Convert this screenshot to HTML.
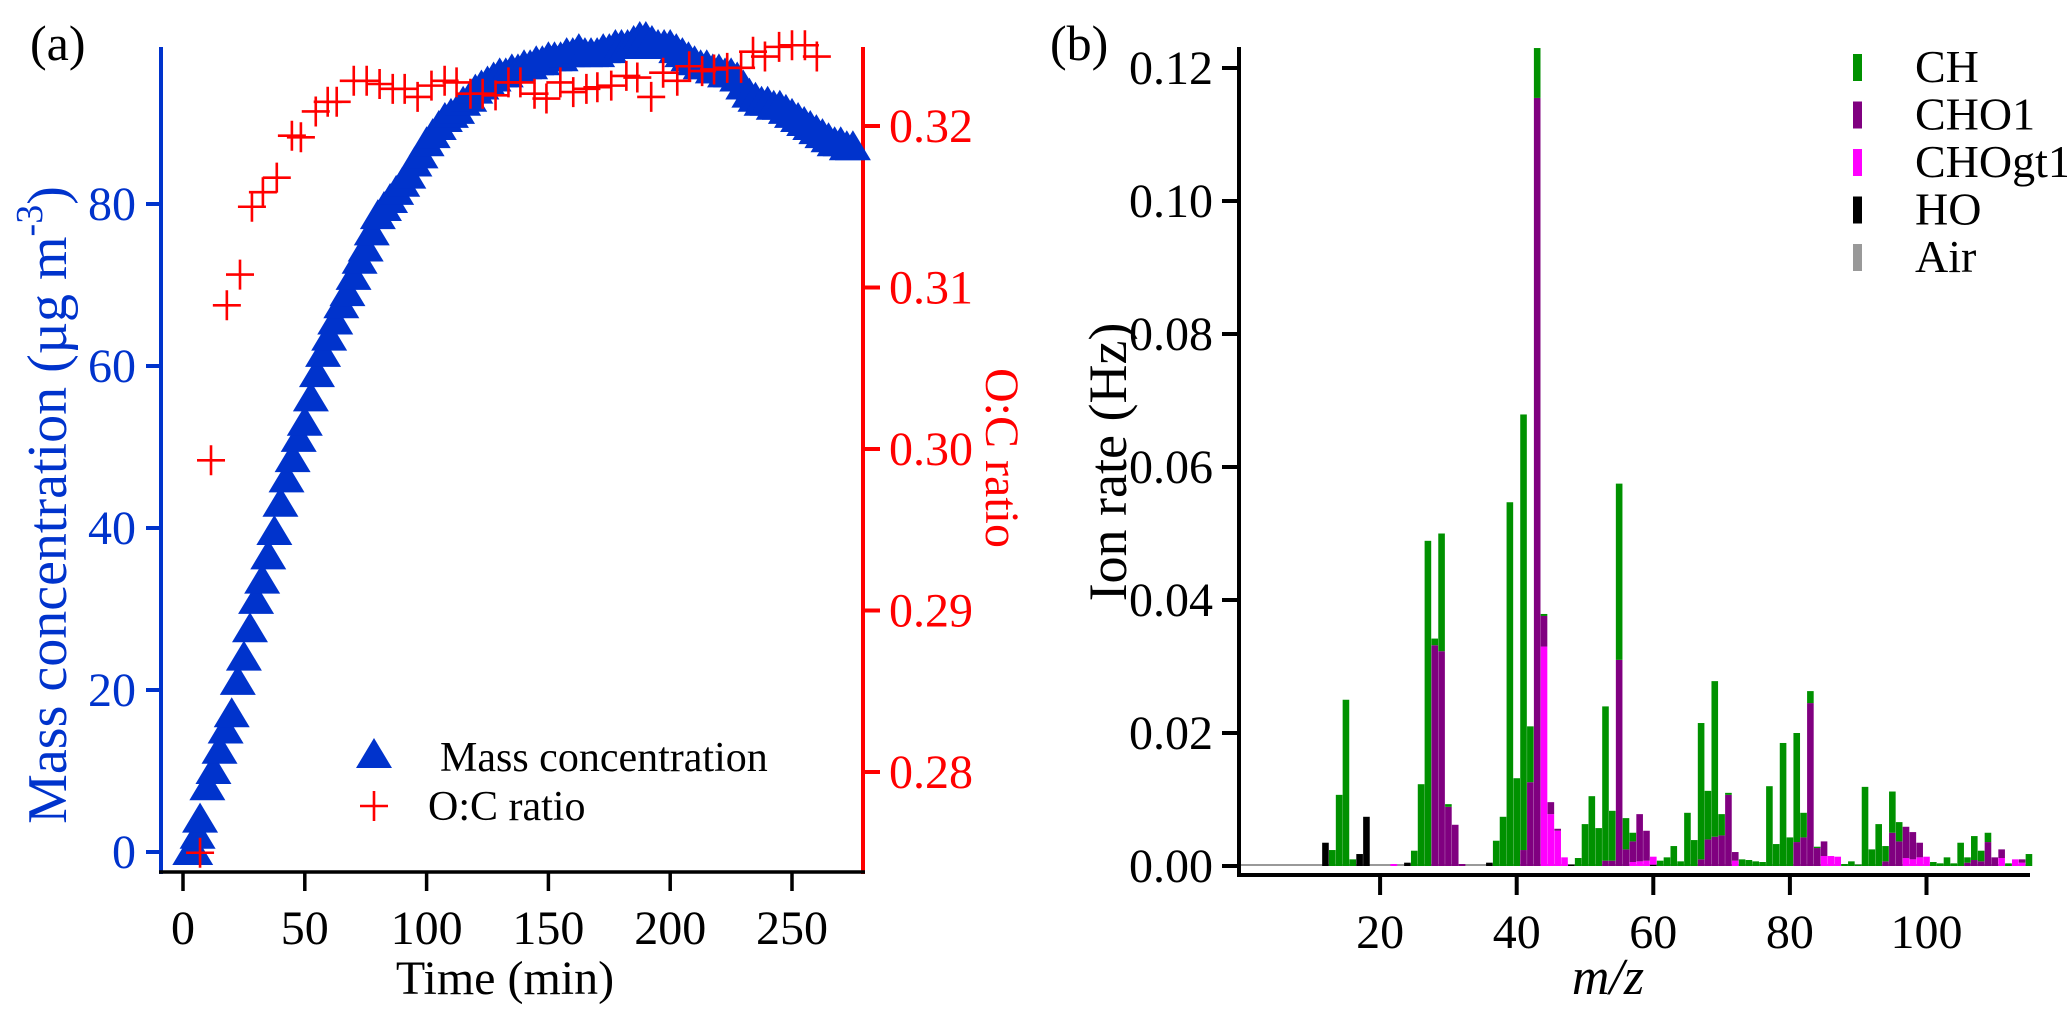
<!DOCTYPE html>
<html><head><meta charset="utf-8">
<style>
html,body{margin:0;padding:0;background:#fff;}
svg{display:block;font-family:"Liberation Serif",serif;}
</style></head>
<body>
<svg id="fig" width="2067" height="1018" viewBox="0 0 2067 1018" xmlns="http://www.w3.org/2000/svg">
  <rect x="0" y="0" width="2067" height="1018" fill="#fff"/>
  <g id="panelA"></g>
  <g id="panelB"></g>
</svg>
<script>
// ---------- Panel (a) data ----------
const massTime = [3,5,6,7,10,12.5,15,17.5,20,22.5,25,27.5,30,32.5,35,37.5,40,42.5,45,47.5,50,52.5,55,57.5,60,62.5,65,67.5,70,72.5,75,77.5,80,82.5,85,87.5,90,92.5,95,97.5,100,102.5,105,107.5,110,112.5,115,117.5,120,122.5,125,127.5,130,132.5,135,137.5,140,142.5,145,147.5,150,152.5,155,157.5,160,162.5,165,167.5,170,172.5,175,177.5,180,182.5,185,187.5,190,192.5,195,197.5,200,202.5,205,207.5,210,212.5,215,217.5,220,222.5,225,227.5,230,232.5,235,237.5,240,242.5,245,247.5,250,252.5,255,257.5,260,262.5,265,267.5,270,272.5,275];
const massValue = [0,0,2,4,8,10,12.5,15,17,21,24,27.5,31,33.5,36.5,39.5,43,46,48.5,51,53,56,59,61.5,63.5,65.5,67.5,69,71,73,74.5,76.5,78.5,79.5,80.5,81.5,82.5,83.5,85,86,87.5,88.5,89.5,90.5,91,91.5,92.5,93,94,94.5,95,95.5,96,96,96.5,96.5,97,97,97.5,97.5,98,98,98,98.5,98.5,99,98.5,98.5,98.5,99,99,99.5,99.5,99.5,100,100.5,100.5,100,99.5,99.5,99.5,99,98.5,98,97.5,97,97,96.5,96.5,96,96,95.5,94.5,93.5,93,92.5,92.5,92,92,91.5,91,90.5,90,89.5,89,88.5,88,87.5,87.5,87,87];
const ocTime = [7.0,11.5,18.0,23.4,28.3,32.8,38.5,44.7,48.4,54.5,59.4,63.1,70.1,75.4,80.7,86.1,91.0,96.3,102.0,107.4,112.3,118.0,123.0,128.3,133.6,138.5,144.3,149.2,154.9,160.2,165.6,170.1,175.8,182.0,186.5,192.2,197.1,202.9,207.8,213.1,218.0,223.4,229.1,234.0,238.9,244.7,250.0,255.3,260.2];
const ocValue = [0.2750,0.2993,0.3089,0.3108,0.3150,0.3159,0.3168,0.3194,0.3193,0.3209,0.3215,0.3215,0.3228,0.3228,0.3226,0.3223,0.3223,0.3218,0.3225,0.3228,0.3227,0.3220,0.3220,0.3219,0.3227,0.3227,0.3220,0.3217,0.3227,0.3221,0.3223,0.3224,0.3225,0.3231,0.3230,0.3218,0.3233,0.3228,0.3237,0.3234,0.3235,0.3236,0.3236,0.3246,0.3243,0.3249,0.3250,0.3250,0.3243];
const aXTicks = [0,50,100,150,200,250];
const aYTicks = [0,20,40,60,80];
const aY2Ticks = [0.28,0.29,0.30,0.31,0.32];

// ---------- Panel (b) data ----------
const mz     = [12,13,14,15,16,17,18,22,24,25,26,27,28,29,30,31,32,36,37,38,39,40,41,42,43,44,45,46,47,48,49,50,51,52,53,54,55,56,57,58,59,60,61,62,63,64,65,66,67,68,69,70,71,72,73,74,75,76,77,78,79,80,81,82,83,84,85,86,87,88,89,90,91,92,93,94,95,96,97,98,99,100,101,102,103,104,105,106,107,108,109,110,111,112,113,114,115];
const chVals = [0,0.0024,0.0107,0.025,0.001,0,0,0,0,0.0023,0.0123,0.0489,0.001,0.0177,0.0004,0,0,0,0.0038,0.0074,0.0547,0.0132,0.0655,0.0084,0.0075,0.0003,0,0,0,0,0.0012,0.0063,0.0105,0.0057,0.0232,0.0075,0.0265,0.0047,0.0013,0,0,0,0.0008,0.0013,0.003,0.0007,0.008,0.0039,0.0205,0.0073,0.0234,0.0032,0.0003,0,0.001,0.0009,0.0007,0.0006,0.012,0.0033,0.0185,0.0043,0.0164,0.0037,0.0018,0.0002,0,0,0,0.0003,0.0007,0.0002,0.0119,0.0025,0.0063,0.0023,0.0062,0.0029,0,0,0,0,0.0006,0.0004,0.0013,0.0004,0.0035,0.0008,0.0036,0.0016,0.0014,0,0,0.0004,0,0,0.0018];
const cho1Vals = [0,0,0,0,0,0,0,0,0,0,0,0,0.0332,0.0323,0.0089,0.0062,0.0003,0,0,0,0,0,0.0024,0.0126,0.1155,0.0046,0.0018,0.0003,0,0,0,0,0,0,0.0008,0.0008,0.031,0.0025,0.0031,0.0071,0.0045,0,0,0,0,0,0,0,0.001,0.004,0.0044,0.0046,0.0107,0.0013,0,0,0,0,0,0,0,0,0.0036,0.0043,0.0245,0.0027,0.0022,0,0,0,0,0,0,0,0,0.0007,0.005,0.0037,0.0047,0.0041,0.0022,0,0,0,0,0,0,0.0005,0.0009,0.0007,0.0036,0.0013,0.0013,0,0,0.0005,0];
const chogt1Vals = [0,0,0,0,0,0,0,0.0003,0,0,0,0,0,0,0,0,0,0,0,0,0,0,0,0,0,0.033,0.0078,0.0053,0.0013,0,0,0,0,0,0,0,0,0,0.0006,0.0007,0.0008,0.0012,0,0,0,0,0,0,0,0,0,0,0,0.0008,0,0,0,0,0,0,0,0,0,0,0,0,0.0015,0.0015,0.0014,0,0,0,0,0,0,0,0,0,0.0012,0.001,0.0013,0.0014,0,0,0,0,0,0,0,0,0,0,0.0012,0,0.001,0.0005,0];
const hoVals = [0.0035,0,0,0,0,0.0018,0.0074,0,0.0005,0,0,0,0,0,0,0,0,0.0005,0,0,0,0,0,0,0,0,0,0,0,0.0002,0,0,0,0,0,0,0,0,0,0,0,0.0002,0,0,0,0,0,0,0,0,0,0,0,0,0,0,0,0,0,0,0,0,0,0,0,0,0,0,0,0,0,0,0,0,0,0,0,0,0,0,0,0,0,0,0,0,0,0,0,0,0,0,0,0,0,0,0];
const bXTicks = [20,40,60,80,100];
const bYTicks = [0.00,0.02,0.04,0.06,0.08,0.10,0.12];
const legendNames = ["CH","CHO1","CHOgt1","HO","Air"];

const NS = "http://www.w3.org/2000/svg";
function mk(tag, attrs, parent, text){
  const e = document.createElementNS(NS, tag);
  for (const k in attrs) e.setAttribute(k, attrs[k]);
  if (text !== undefined) e.textContent = text;
  parent.appendChild(e);
  return e;
}
const BLUE = "#0033cc", RED = "#ff0000";
const TF = 48;

// ---------- Panel (a) ----------
const A = document.getElementById("panelA");
const ax = t => 183 + t * 2.436;
const ay = v => 852 - v * 8.1;
const ay2 = v => 126 + (0.32 - v) * 16150;

let e;
e = mk("text", {x:30, y:60, "font-size":50, fill:"#000"}, A, "(a)");



e = mk("line", {x1:161, y1:47, x2:161, y2:874, stroke:BLUE, "stroke-width":4}, A);


e = mk("line", {x1:863, y1:47, x2:863, y2:874, stroke:RED, "stroke-width":4}, A);


e = mk("line", {x1:159, y1:872, x2:865, y2:872, stroke:"#000", "stroke-width":3.5}, A);



aXTicks.forEach(t => {
  const x = ax(t);
  e = mk("line", {x1:x, y1:872, x2:x, y2:891, stroke:"#000", "stroke-width":3.5}, A);
  
  
  e = mk("text", {x:x, y:944, "font-size":TF, "text-anchor":"middle", fill:"#000"}, A, String(t));
  
  
});
aYTicks.forEach(v => {
  const y = ay(v);
  e = mk("line", {x1:146, y1:y, x2:161, y2:y, stroke:BLUE, "stroke-width":4}, A);
  
  
  e = mk("text", {x:136, y:y+16, "font-size":TF, "text-anchor":"end", fill:BLUE}, A, String(v));
  
  
});
aY2Ticks.forEach(v => {
  const y = ay2(v);
  e = mk("line", {x1:863, y1:y, x2:880, y2:y, stroke:RED, "stroke-width":4}, A);
  
  
  e = mk("text", {x:889, y:y+16, "font-size":TF, fill:RED}, A, v.toFixed(2));
  
  
});

e = mk("text", {x:505, y:994, "font-size":48, "text-anchor":"middle", fill:"#000"}, A, "Time (min)");



e = mk("text", {x:0, y:0, "font-size":56, "text-anchor":"middle", fill:BLUE, transform:"translate(66,505) rotate(-90)"}, A);


e.appendChild(document.createTextNode("Mass concentration (µg m"));
mk("tspan", {dy:-24, "font-size":38}, e, "-3");
mk("tspan", {dy:24}, e, ")");

e = mk("text", {x:0, y:0, "font-size":48, "text-anchor":"middle", fill:RED, transform:"translate(986,458) rotate(90)"}, A, "O:C ratio");



const massG = mk("g", {fill:BLUE}, A);


massTime.forEach((t,i) => {
  const x = ax(t), y = ay(massValue[i]);
  const p = mk("polygon", {points:`${x},${y-17} ${x-18},${y+13} ${x+18},${y+13}`}, massG);
  
  
});
const ocG = mk("g", {stroke:RED, "stroke-width":2.6, fill:"none"}, A);


ocTime.forEach((t,i) => {
  const x = ax(t), y = ay2(ocValue[i]);
  const p = mk("path", {d:`M${x-14},${y}H${x+14}M${x},${y-15}V${y+15}`}, ocG);
  
  
});

e = mk("polygon", {points:"374,738 356,768 392,768", fill:BLUE}, A);


e = mk("text", {x:440, y:771, "font-size":42, fill:"#000"}, A, "Mass concentration");


e = mk("path", {d:"M360,806H388M374,791V821", stroke:RED, "stroke-width":2.6}, A);


e = mk("text", {x:428, y:820, "font-size":42, fill:"#000"}, A, "O:C ratio");



// ---------- Panel (b) ----------
const B = document.getElementById("panelB");
const bx = m => 1243.5 + m * 6.83;
const by = v => 866 - v * 6650;

e = mk("text", {x:1050, y:60, "font-size":50, fill:"#000"}, B, "(b)");



e = mk("line", {x1:1241, y1:865, x2:2028, y2:865, stroke:"#999", "stroke-width":2}, B);



const COLORS = {ho:"#000000", chogt1:"#ff00ff", cho1:"#800080", ch:"#009100"};
const barsG = mk("g", {}, B);


mz.forEach((m,i) => {
  const x = bx(m) - 3.3;
  let base = 0;
  const parts = [["ho",hoVals[i]],["chogt1",chogt1Vals[i]],["cho1",cho1Vals[i]],["ch",chVals[i]]];
  parts.forEach(([k,v]) => {
    if (v <= 0) return;
    const y1 = by(base), y2 = by(base + v);
    const r = mk("rect", {x:x, y:y2, width:6.6, height:Math.max(0.8, y1-y2), fill:COLORS[k]}, barsG);
    
    
    base += v;
  });
});

e = mk("line", {x1:1239, y1:47, x2:1239, y2:877, stroke:"#000", "stroke-width":4}, B);


e = mk("line", {x1:1237, y1:875, x2:2030, y2:875, stroke:"#000", "stroke-width":4}, B);



bXTicks.forEach(m => {
  const x = bx(m);
  e = mk("line", {x1:x, y1:875, x2:x, y2:895, stroke:"#000", "stroke-width":4}, B);
  
  
  e = mk("text", {x:x, y:948, "font-size":TF, "text-anchor":"middle", fill:"#000"}, B, String(m));
  
  
});
bYTicks.forEach(v => {
  const y = by(v);
  e = mk("line", {x1:1222, y1:y, x2:1239, y2:y, stroke:"#000", "stroke-width":4}, B);
  
  
  e = mk("text", {x:1213, y:y+16, "font-size":TF, "text-anchor":"end", fill:"#000"}, B, v.toFixed(2));
  
  
});

e = mk("text", {x:0, y:0, "font-size":54, "text-anchor":"middle", fill:"#000", transform:"translate(1126,462) rotate(-90)"}, B, "Ion rate (Hz)");


e = mk("text", {x:1608, y:994, "font-size":52, "text-anchor":"middle", "font-style":"italic", fill:"#000"}, B, "m/z");



const legColors = ["#009100","#800080","#ff00ff","#000000","#999999"];
legendNames.forEach((n,i) => {
  const cy = 67 + i * 47.5;
  e = mk("rect", {x:1853, y:cy-13, width:9, height:27, fill:legColors[i]}, B);
  
  
  e = mk("text", {x:1915, y:cy+15, "font-size":46, fill:"#000"}, B, n);
  
  
});
</script>
</body></html>
